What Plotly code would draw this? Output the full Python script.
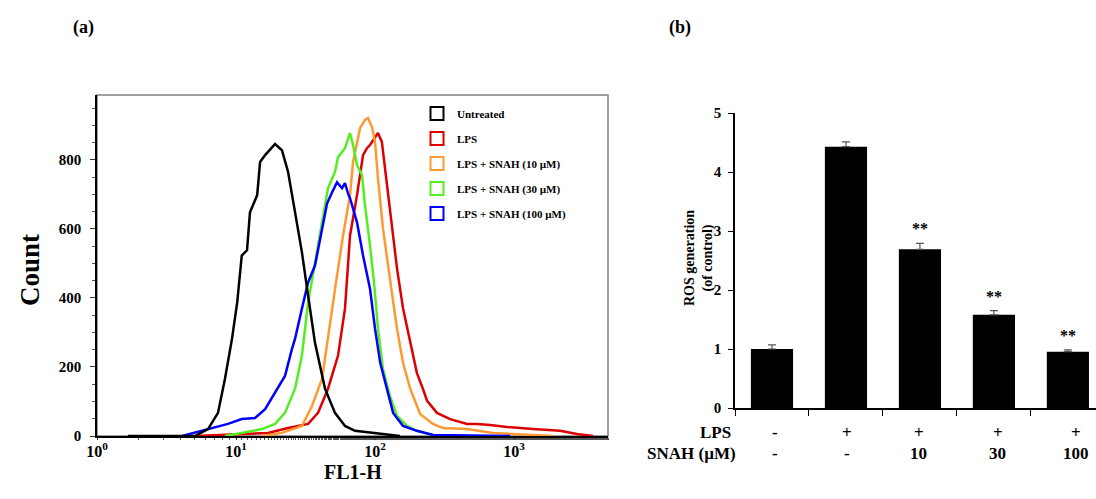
import plotly.graph_objects as go

SERIF = "Liberation Serif, Times New Roman, serif"

# ---------------- data: panel (a) flow cytometry histograms ----------------
untreated_fl = [1.67, 5.07, 6.29, 7.42, 8.33, 9.36, 10.2, 11.0, 12.0, 12.6, 14.2, 14.9, 16.2, 19.1,
                21.4, 23.7, 26.6, 29.8, 33.0, 37.0, 43.7, 51.5, 60.8, 71.8, 151]
untreated_ct = [0, 0, 20, 67, 166, 282, 387, 523, 538, 648, 698, 794, 814, 846,
                828, 765, 648, 532, 407, 270, 137, 67, 29, 15, 0]

lps_fl = [5.07, 17.0, 23.7, 33.0, 38.9, 45.9, 54.2, 60.8, 66.1, 74.2, 82.0, 87.5, 92.0, 100,
          105, 112, 118, 128, 144, 159, 179, 200, 221, 237, 279, 347, 459, 542, 671, 891,
          1371, 2143, 2838, 3700]
lps_ct = [0, 9, 23, 35, 67, 137, 233, 369, 581, 698, 814, 834, 843, 863,
          878, 852, 776, 648, 485, 370, 270, 183, 137, 102, 67, 49, 35, 35, 32, 26,
          20, 15, 6, 0]

snah10_fl = [15.4, 21.4, 29.8, 35.2, 41.6, 46.7, 52.4, 58.9, 66.1, 69.5, 78.0, 84.7, 89.1, 95.1,
             100, 105, 114, 128, 144, 159, 179, 211, 261, 308, 459, 706, 1050, 1910]
snah10_ct = [0, 9, 29, 87, 166, 311, 445, 581, 698, 794, 892, 916, 921, 895,
             852, 747, 602, 456, 311, 212, 137, 64, 35, 23, 20, 9, 6, 0]

snah30_fl = [8.33, 11.0, 15.4, 19.1, 22.5, 26.6, 29.8, 33.0, 37.0, 41.6, 45.9, 51.5, 54.2, 60.8,
             66.1, 69.5, 74.2, 80.6, 84.7, 92.0, 98.4, 105, 114, 128, 144, 170, 200, 261, 459]
snah30_ct = [0, 9, 20, 35, 67, 137, 233, 387, 503, 619, 718, 765, 808, 834,
             878, 843, 785, 756, 669, 552, 445, 311, 195, 116, 58, 29, 15, 3, 0]

snah100_fl = [4.09, 5.69, 7.06, 8.75, 11.0, 13.7, 16.2, 19.1, 22.5, 25.3, 26.6, 29.8, 33.0, 37.0,
              41.6, 45.2, 49.1, 53.3, 57.9, 60.8, 63.9, 66.1, 74.2, 82.0, 92.0, 100, 109, 122,
              135, 159, 200, 261, 935]
snah100_ct = [0, 15, 23, 35, 49, 52, 78, 125, 174, 253, 282, 369, 445, 494,
              602, 674, 706, 735, 718, 733, 703, 689, 619, 523, 427, 311, 212, 137,
              67, 29, 15, 3, 0]

legend_names = ["Untreated", "LPS", "LPS + SNAH (10 \u00b5M)", "LPS + SNAH (30 \u00b5M)",
                "LPS + SNAH (100 \u00b5M)"]
hist_x_ticks = [1, 10, 100, 1000]
hist_x_ticktext = ["10<sup>0</sup>", "10<sup>1</sup>", "10<sup>2</sup>", "10<sup>3</sup>"]
hist_y_ticks = [0, 200, 400, 600, 800]

# ---------------- data: panel (b) ROS bars ----------------
groups = ["Control", "LPS", "LPS+SNAH10", "LPS+SNAH30", "LPS+SNAH100"]
ros = [1.00, 4.43, 2.69, 1.58, 0.955]
ros_err = [0.07, 0.08, 0.10, 0.07, 0.03]
signif = ["", "", "**", "**", "**"]
lps_row = ["-", "+", "+", "+", "+"]
snah_row = ["-", "-", "10", "30", "100"]

colors = ["#000000", "#dd0000", "#ff9933", "#55ee22", "#0000ff"]

fig = go.Figure()

series = [
    (lps_fl, lps_ct, colors[1]),
    (snah10_fl, snah10_ct, colors[2]),
    (snah30_fl, snah30_ct, colors[3]),
    (snah100_fl, snah100_ct, colors[4]),
    (untreated_fl, untreated_ct, colors[0]),
]
for xs, ys, col in series:
    fig.add_trace(go.Scatter(x=xs, y=ys, mode="lines", line=dict(color=col, width=2.5),
                             showlegend=False, hoverinfo="skip", xaxis="x", yaxis="y"))

for name, col in zip(legend_names, colors):
    fig.add_trace(go.Scatter(x=[None], y=[None], mode="markers", name=name, legendgroup=name,
                             marker=dict(symbol="square-open", size=13, color=col,
                                         line=dict(width=2, color=col)),
                             xaxis="x", yaxis="y"))

fig.add_trace(go.Bar(x=groups, y=ros, width=0.57,
                     marker=dict(color="black", line=dict(width=0)),
                     error_y=dict(type="data", array=ros_err, arrayminus=[0] * len(ros),
                                  symmetric=False, color="#555555", thickness=1.2, width=4),
                     showlegend=False, xaxis="x2", yaxis="y2"))

W, H = 1096, 499
def px(x):
    return x / W
def py(y):
    return (H - y) / H

bold = dict(family=SERIF, color="black", weight="bold")

def note(text, x, y, size, **kw):
    d = dict(text=text, x=px(x), y=py(y), xref="paper", yref="paper", showarrow=False,
             xanchor="center", yanchor="middle", font=dict(size=size, **bold))
    d.update(kw)
    return d

annotations = [
    note("(a)", 83, 28, 18),
    note("(b)", 680, 28, 18),
    note("Count", 30, 270, 27, textangle=-90),
    note("FL1-H", 353, 472, 20),
    note("ROS generation<br>(of control)", 699, 258, 14, textangle=-90),
    note("LPS", 733, 432, 17, xanchor="right"),
    note("SNAH (\u00b5M)", 738, 453, 17, xanchor="right"),
]
for i, (s, v, e) in enumerate(zip(signif, ros, ros_err)):
    if s:
        annotations.append(dict(text=s, x=i, y=v + e, xref="x2", yref="y2", yanchor="bottom",
                                xanchor="center", yshift=4, showarrow=False,
                                font=dict(size=16, **bold)))
label_shift = [3, 1, -1, 4, 8]
for i, (a, b) in enumerate(zip(lps_row, snah_row)):
    annotations.append(dict(text=a, x=i, y=py(432), xref="x2", yref="paper", xshift=label_shift[i],
                            xanchor="center", yanchor="middle",
                            showarrow=False, font=dict(size=17, **bold)))
    annotations.append(dict(text=b, x=i, y=py(453), xref="x2", yref="paper", xshift=label_shift[i],
                            xanchor="center", yanchor="middle",
                            showarrow=False, font=dict(size=17, **bold)))

fig.update_layout(
    template="none",
    width=W, height=H,
    margin=dict(l=0, r=0, t=0, b=0, pad=0, autoexpand=False),
    paper_bgcolor="white", plot_bgcolor="white",
    font=dict(family=SERIF, color="black"),
    showlegend=True,
    legend=dict(x=px(417), y=py(99), xanchor="left", yanchor="top",
                bgcolor="rgba(255,255,255,0)", borderwidth=0,
                font=dict(size=11, **bold), tracegroupgap=6, itemsizing="trace"),
    xaxis=dict(type="log", domain=[px(97), px(608)], range=[0, 3.676], automargin=False,
               tickvals=hist_x_ticks, ticktext=hist_x_ticktext,
               tickfont=dict(size=16, **bold), ticklabelstandoff=-2,
               showline=True, linecolor="black", linewidth=1.5,
               ticks="outside", ticklen=2, tickcolor="#333",
               minor=dict(ticks="outside", ticklen=2, tickcolor="#555", showgrid=False),
               showgrid=False, zeroline=False, anchor="y"),
    yaxis=dict(domain=[py(436), py(95)], range=[0, 988], automargin=False,
               tickvals=hist_y_ticks, tickfont=dict(size=15, **bold),
               showline=True, linecolor="black", linewidth=1.5,
               ticks="outside", ticklen=5, tickcolor="#333", ticklabelstandoff=6,
               minor=dict(dtick=50, ticks="outside", ticklen=3, tickcolor="#555", showgrid=False),
               showgrid=False, zeroline=False, anchor="x"),
    xaxis2=dict(type="category", domain=[px(735), 1.0], range=[-0.5, 4.38], automargin=False,
                showline=True, linecolor="black", linewidth=1.5,
                ticks="outside", tickson="boundaries", ticklen=6, tickcolor="black",
                showticklabels=False, showgrid=False, zeroline=False, anchor="y2"),
    yaxis2=dict(domain=[py(408), py(113)], range=[0, 5], dtick=1, automargin=False,
                tickfont=dict(size=15, **bold),
                showline=True, linecolor="black", linewidth=1.5,
                ticks="outside", ticklen=5, tickcolor="black", ticklabelstandoff=4,
                showgrid=False, zeroline=False, anchor="x2"),
    bargap=0.43,
    annotations=annotations,
    shapes=[dict(type="rect", xref="x domain", yref="y domain", x0=0, x1=1, y0=0, y1=1,
                 line=dict(color="#808080", width=1.5), layer="below")],
)

fig.write_html("out.html", config={"displayModeBar": False},
               post_script="document.body.style.margin='0px';document.body.style.padding='0px';")
